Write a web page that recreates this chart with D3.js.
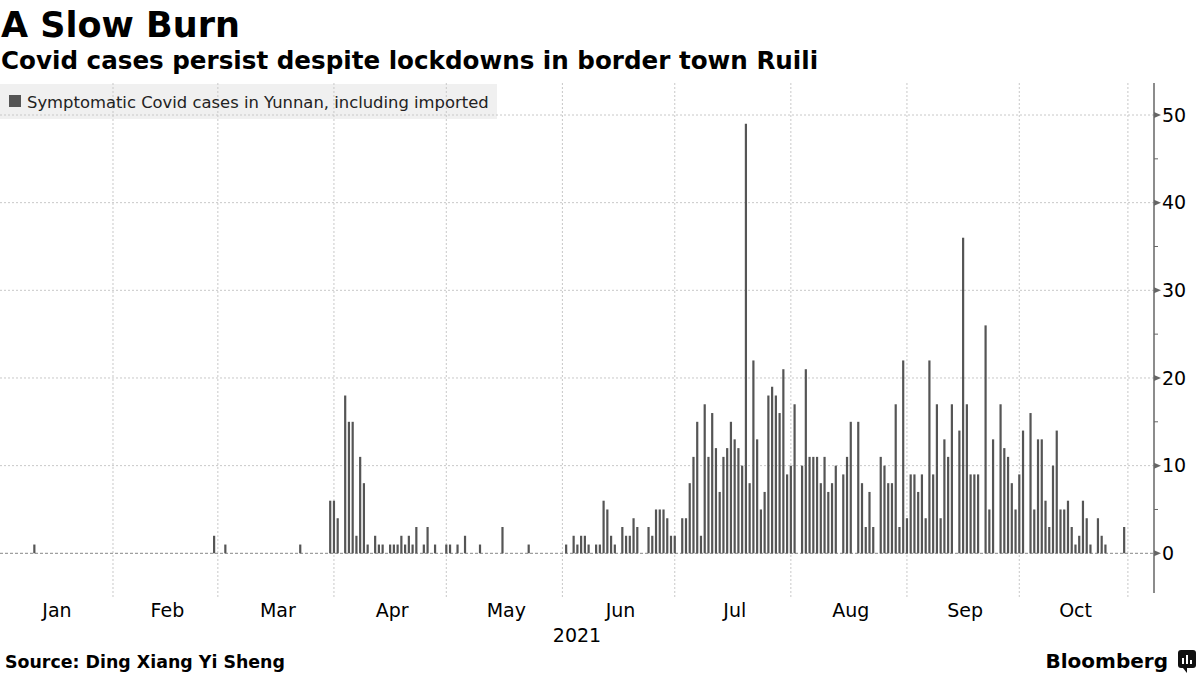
<!DOCTYPE html>
<html><head><meta charset="utf-8">
<script src="https://cdn.jsdelivr.net/npm/d3@7"></script>
<style>body{margin:0;background:#fff;} svg{display:block;font-family:"DejaVu Sans",sans-serif;}</style>
</head><body><svg id="c" width="1200" height="675"></svg>
<script>
// ---- data (daily symptomatic cases, 2021) ----
const monthNames = ["Jan","Feb","Mar","Apr","May","Jun","Jul","Aug","Sep","Oct"];
const casesJan = [0,0,0,0,0,0,0,0,0,0, 1,0,0,0,0,0,0,0,0,0, 0,0,0,0,0,0,0,0,0,0, 0];
const casesFeb = [0,0,0,0,0,0,0,0,0,0, 0,0,0,0,0,0,0,0,0,0, 0,0,0,0,0,0,0,2];
const casesMar = [0,0,1,0,0,0,0,0,0,0, 0,0,0,0,0,0,0,0,0,0, 0,0,1,0,0,0,0,0,0,0, 6];
const casesApr = [6,4,0,18,15,15,2,11,8,1, 0,2,1,1,0,1,1,1,2,1, 2,1,3,0,1,3,0,1,0,0];
const casesMay = [1,1,0,1,0,2,0,0,0,1, 0,0,0,0,0,3,0,0,0,0, 0,0,1,0,0,0,0,0,0,0, 0];
const casesJun = [0,1,0,2,1,2,2,1,0,1, 1,6,5,2,1,0,3,2,2,4, 3,0,0,3,2,5,5,5,4,2];
const casesJul = [2,0,4,4,8,11,15,2,17,11, 16,12,7,11,12,15,13,12,10,49, 8,22,13,5,7,18,19,18,16,21, 9];
const casesAug = [10,17,0,10,21,11,11,11,8,11, 7,8,10,0,9,11,15,0,15,8, 3,7,3,0,11,10,8,8,17,3, 22];
const casesSep = [4,9,9,7,9,4,22,9,17,4, 13,11,17,0,14,36,17,9,9,9, 0,26,5,13,0,17,12,11,8,5];
const casesOct = [9,14,0,16,5,13,13,6,3,10, 14,5,5,6,3,1,2,6,4,1, 0,4,2,1,0,0,0,0,3];
const yTicks = [0,10,20,30,40,50];
const yMinorTicks = [5,15,25,35,45];
const yearLabel = "2021";

const monthly = [casesJan,casesFeb,casesMar,casesApr,casesMay,casesJun,casesJul,casesAug,casesSep,casesOct];
const data = [];
monthly.forEach((arr, m) => arr.forEach((v, i) => data.push({date: new Date(2021, m, i + 1), value: v})));

const svg = d3.select("#c");
const axisX = 1154;
const x = d3.scaleTime().domain([new Date(2021,0,1), new Date(2021,9,30)]).range([-3.1, 1127.9]);
const y = d3.scaleLinear().domain([0,50]).range([553.3, 115]);
const plotTop = 83, axisBottom = 593, gridBottom = 597;

// title
svg.append("text").attr("x",1).attr("y",37).attr("font-size",35).attr("font-weight","bold").attr("fill","#000").text("A Slow Burn");
svg.append("text").attr("x",1).attr("y",69).attr("font-size",24.6).attr("font-weight","bold").attr("fill","#000").text("Covid cases persist despite lockdowns in border town Ruili");

// legend background
svg.append("rect").attr("x",0).attr("y",84).attr("width",497).attr("height",35).attr("fill","#f0f0f0");

// vertical month gridlines
const monthStarts = d3.range(1,10).map(m => new Date(2021, m, 1));
const vlines = monthStarts.map(d => x(d)).concat([x.range()[1]]);
svg.append("g").selectAll("line").data(vlines).join("line")
  .attr("x1", d => d).attr("x2", d => d).attr("y1", plotTop).attr("y2", gridBottom)
  .attr("stroke","#c8c8c8").attr("stroke-width",1).attr("stroke-dasharray","2,2");

// horizontal gridlines
svg.append("g").selectAll("line").data(yTicks.filter(t => t > 0)).join("line")
  .attr("x1",0).attr("x2",axisX).attr("y1", d => y(d)).attr("y2", d => y(d))
  .attr("stroke","#c8c8c8").attr("stroke-width",1).attr("stroke-dasharray","2,2");
svg.append("line").attr("x1",0).attr("x2",axisX).attr("y1",y(0)).attr("y2",y(0))
  .attr("stroke","#888").attr("stroke-width",1).attr("stroke-dasharray","3,2");

// legend
svg.append("rect").attr("x",9).attr("y",95).attr("width",12).attr("height",12).attr("fill","#555");
svg.append("text").attr("x",27).attr("y",108).attr("font-size",16.4).attr("fill","#222")
  .text("Symptomatic Covid cases in Yunnan, including imported");

// bars
svg.append("g").selectAll("rect").data(data.filter(d => d.value > 0)).join("rect")
  .attr("x", d => x(d.date) - 1.1).attr("width", 2.2)
  .attr("y", d => y(d.value)).attr("height", d => y(0) - y(d.value))
  .attr("fill","#555");

// y axis
svg.append("line").attr("x1",axisX).attr("x2",axisX).attr("y1",plotTop).attr("y2",axisBottom)
  .attr("stroke","#666").attr("stroke-width",1.5);
svg.append("g").selectAll("path").data(yTicks).join("path")
  .attr("d", d => `M${axisX},${y(d)-3}L${axisX+7},${y(d)}L${axisX},${y(d)+3}Z`).attr("fill","#666");
svg.append("g").selectAll("line").data(yMinorTicks).join("line")
  .attr("x1",axisX).attr("x2",axisX+4).attr("y1", d => y(d)).attr("y2", d => y(d))
  .attr("stroke","#666").attr("stroke-width",1);
svg.append("g").selectAll("text").data(yTicks).join("text")
  .attr("x", axisX + 8).attr("y", d => y(d)).attr("dy","0.35em")
  .attr("font-size",19).attr("fill","#000").text(d => d);

// x labels
const monthBounds = d3.range(0,10).map(m => [new Date(2021,m,1), m < 9 ? new Date(2021,m+1,1) : x.domain()[1]]);
svg.append("g").selectAll("text").data(monthBounds).join("text")
  .attr("x", d => (x(d[0]) + x(d[1])) / 2 + 2).attr("y",617).attr("text-anchor","middle")
  .attr("font-size",19).attr("fill","#000").text((d,i) => monthNames[i]);
svg.append("text").attr("x", axisX/2).attr("y",642).attr("text-anchor","middle")
  .attr("font-size",19).attr("fill","#000").text(yearLabel);

// footer
svg.append("text").attr("x",5).attr("y",668).attr("font-size",17.4).attr("font-weight","bold").attr("fill","#000")
  .text("Source: Ding Xiang Yi Sheng");
svg.append("text").attr("x",1168).attr("y",668).attr("text-anchor","end").attr("font-size",20).attr("font-weight","bold").attr("fill","#000")
  .text("Bloomberg");
const logo = svg.append("g").attr("transform","translate(1178,650)");
logo.append("rect").attr("x",0).attr("y",0).attr("width",18).attr("height",18).attr("rx",3).attr("fill","#111");
logo.append("path").attr("d","M5,18 L9,23 L9,18 Z").attr("fill","#111");
[[4,8],[8,5],[12,10]].forEach(([bx,by]) => logo.append("rect").attr("x",bx).attr("y",by).attr("width",2).attr("height",14-by).attr("fill","#fff"));
</script></body></html>
